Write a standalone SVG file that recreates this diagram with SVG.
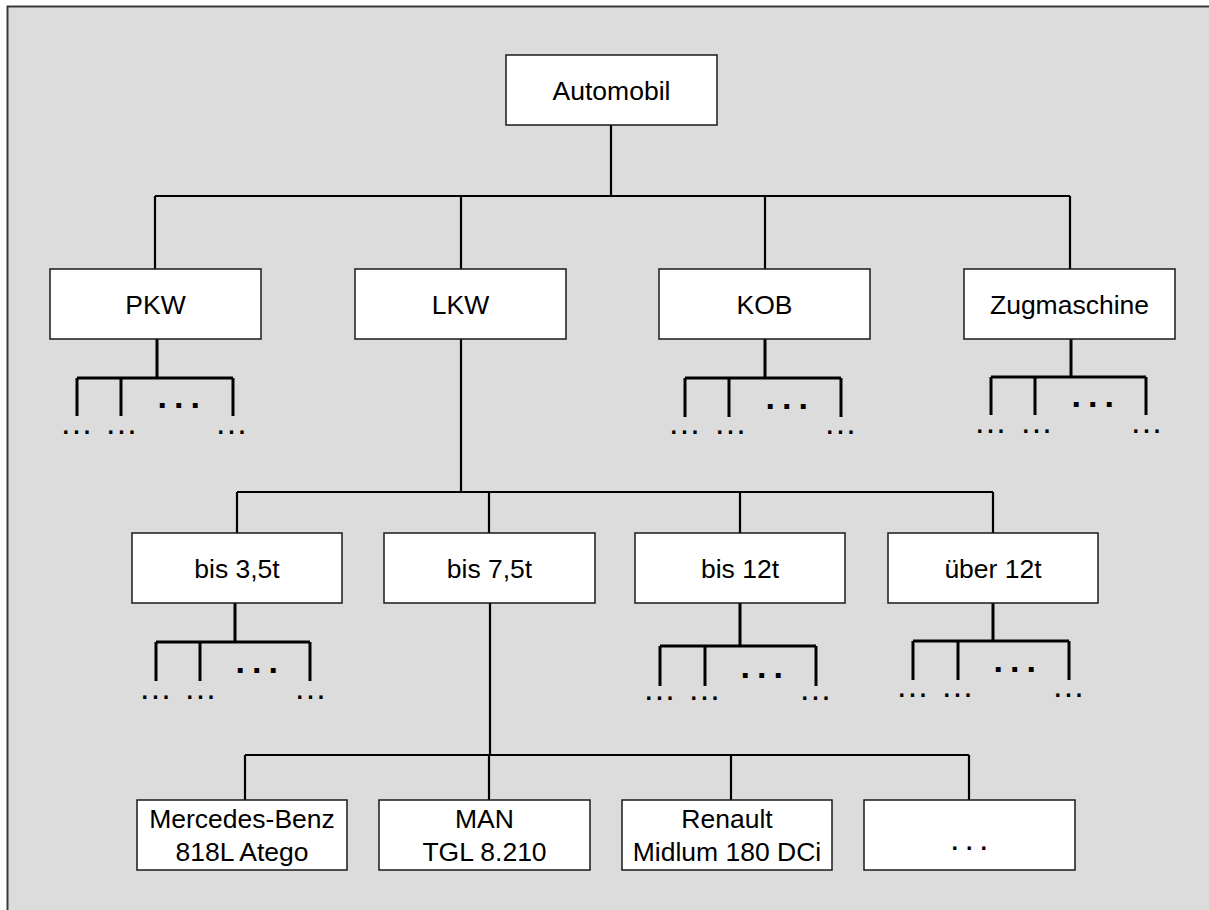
<svg xmlns="http://www.w3.org/2000/svg" width="1209" height="910" viewBox="0 0 1209 910">
  <style>
    .bg { fill: #dcdcdc; }
    .frame { fill: none; stroke: #3a3a3a; stroke-width: 2; }
    .box { fill: #ffffff; stroke: #1a1a1a; stroke-width: 1.5; }
    .lbl { font-family: "Liberation Sans", Arial, sans-serif; font-size: 26.5px; fill: #000; text-anchor: middle; }
    .main { fill: none; stroke: #000; stroke-width: 2.2; }
    .sub { fill: none; stroke: #000; stroke-width: 3; }
    .dots { font-family: "Liberation Sans", Arial, sans-serif; font-size: 34px; fill: #000; letter-spacing: 1.2px; }
    .bdots { font-family: "Liberation Sans", Arial, sans-serif; font-size: 34px; font-weight: bold; fill: #000; letter-spacing: 7px; }
  </style>

  <!-- canvas -->
  <rect x="0" y="0" width="1209" height="910" fill="#ffffff"/>
  <rect class="bg" x="7" y="6" width="1202" height="904"/>
  <path class="frame" d="M7.5 910 V6.5 H1209"/>

  <!-- connectors -->
  <g id="connectors">
    <!-- Automobil to second level -->
    <path class="main" d="M611 125 V196 M155 196 H1070 M155 196 V269 M461 196 V269 M765 196 V269 M1070 196 V269"/>
    <!-- LKW to weight classes -->
    <path class="main" d="M461 339 V492 M237 492 H993 M237 492 V533 M489 492 V533 M740 492 V533 M993 492 V533"/>
    <!-- bis 7,5t to models -->
    <path class="main" d="M490 603 V755 M245 755 H969 M245 755 V800 M489 755 V800 M731 755 V800 M969 755 V800"/>

    <!-- open sub-branches -->
    <path class="sub" d="M157 339 V378 M77 378 H233 M77 378 V416 M121 378 V416 M233 378 V416"/>
    <path class="sub" d="M765 339 V378 M685 378 H841 M685 378 V417 M729 378 V417 M841 378 V417"/>
    <path class="sub" d="M1071 339 V377 M991 377 H1146 M991 377 V415 M1035 377 V415 M1146 377 V415"/>
    <path class="sub" d="M235 603 V642 M156 642 H310 M156 642 V681 M200 642 V681 M310 642 V681"/>
    <path class="sub" d="M740 603 V646 M660 646 H816 M660 646 V686 M705 646 V686 M816 646 V686"/>
    <path class="sub" d="M993 603 V641 M913 641 H1069 M913 641 V680 M958 641 V680 M1069 641 V680"/>
  </g>

  <!-- ellipsis marks of the open branches -->
  <g id="branch-dots">
    <text class="bdots" x="157.5" y="408">...</text>
    <text class="dots" x="61" y="434">...</text>
    <text class="dots" x="106" y="434">...</text>
    <text class="dots" x="216" y="434">...</text>

    <text class="bdots" x="765.5" y="409">...</text>
    <text class="dots" x="669" y="434">...</text>
    <text class="dots" x="715" y="434">...</text>
    <text class="dots" x="825" y="434">...</text>

    <text class="bdots" x="1071.5" y="407">...</text>
    <text class="dots" x="975" y="433">...</text>
    <text class="dots" x="1021" y="433">...</text>
    <text class="dots" x="1131" y="433">...</text>

    <text class="bdots" x="235.5" y="673">...</text>
    <text class="dots" x="140" y="699">...</text>
    <text class="dots" x="185" y="699">...</text>
    <text class="dots" x="295" y="699">...</text>

    <text class="bdots" x="740.5" y="678">...</text>
    <text class="dots" x="644" y="700">...</text>
    <text class="dots" x="689" y="700">...</text>
    <text class="dots" x="800" y="700">...</text>

    <text class="bdots" x="993.5" y="672">...</text>
    <text class="dots" x="897" y="697">...</text>
    <text class="dots" x="942" y="697">...</text>
    <text class="dots" x="1053" y="697">...</text>
  </g>

  <!-- level 0 -->
  <g id="automobil">
    <rect class="box" x="506" y="55" width="211" height="70"/>
    <text class="lbl" x="611.5" y="99.5">Automobil</text>
  </g>

  <!-- level 1 -->
  <g id="pkw">
    <rect class="box" x="50" y="269" width="211" height="70"/>
    <text class="lbl" x="155.5" y="313.5">PKW</text>
  </g>
  <g id="lkw">
    <rect class="box" x="355" y="269" width="211" height="70"/>
    <text class="lbl" x="460.5" y="313.5">LKW</text>
  </g>
  <g id="kob">
    <rect class="box" x="659" y="269" width="211" height="70"/>
    <text class="lbl" x="764.5" y="313.5">KOB</text>
  </g>
  <g id="zugmaschine">
    <rect class="box" x="964" y="269" width="211" height="70"/>
    <text class="lbl" x="1069.5" y="313.5">Zugmaschine</text>
  </g>

  <!-- level 2 -->
  <g id="bis-3-5t">
    <rect class="box" x="132" y="533" width="210" height="70"/>
    <text class="lbl" x="237" y="577.5">bis 3,5t</text>
  </g>
  <g id="bis-7-5t">
    <rect class="box" x="384" y="533" width="211" height="70"/>
    <text class="lbl" x="489.5" y="577.5">bis 7,5t</text>
  </g>
  <g id="bis-12t">
    <rect class="box" x="635" y="533" width="210" height="70"/>
    <text class="lbl" x="740" y="577.5">bis 12t</text>
  </g>
  <g id="ueber-12t">
    <rect class="box" x="888" y="533" width="210" height="70"/>
    <text class="lbl" x="993" y="577.5">über 12t</text>
  </g>

  <!-- level 3 -->
  <g id="mercedes">
    <rect class="box" x="137" y="800" width="210" height="70"/>
    <text class="lbl" x="242" y="828">Mercedes-Benz</text>
    <text class="lbl" x="242" y="861">818L Atego</text>
  </g>
  <g id="man">
    <rect class="box" x="379" y="800" width="211" height="70"/>
    <text class="lbl" x="484.5" y="828">MAN</text>
    <text class="lbl" x="484.5" y="861">TGL 8.210</text>
  </g>
  <g id="renault">
    <rect class="box" x="622" y="800" width="210" height="70"/>
    <text class="lbl" x="727" y="828">Renault</text>
    <text class="lbl" x="727" y="861">Midlum 180 DCi</text>
  </g>
  <g id="more">
    <rect class="box" x="864" y="800" width="211" height="70"/>
    <text class="dots" x="950" y="850" style="letter-spacing:5px">...</text>
  </g>
</svg>
